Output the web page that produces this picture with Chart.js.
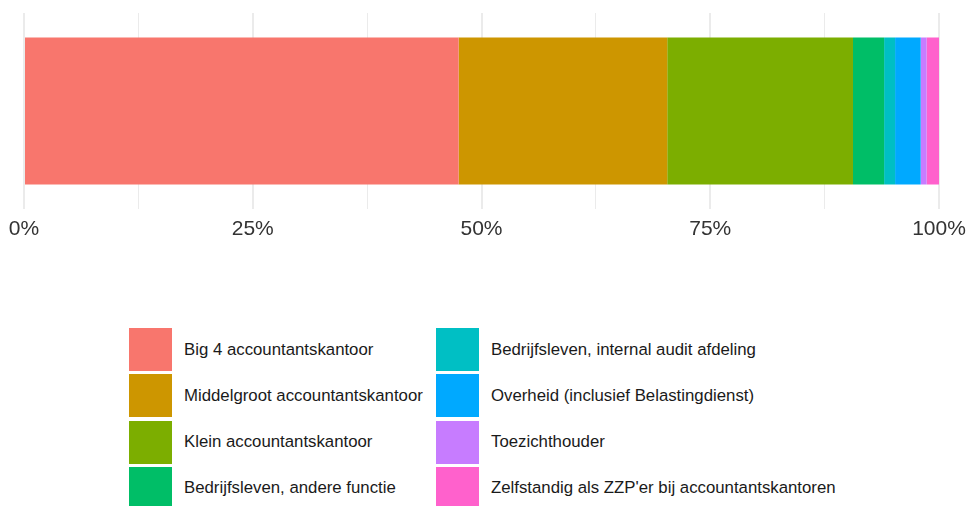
<!DOCTYPE html>
<html>
<head>
<meta charset="utf-8">
<script src="https://cdn.jsdelivr.net/npm/chart.js@4"></script>
<style>
  body { margin: 0; background: #fff; font-family: "Liberation Sans", Arial, sans-serif; }
  #wrap { position: relative; width: 967px; height: 506px; }
  #chartBox { position: absolute; left: 0; top: 0; width: 967px; height: 250px; }
  .item { position: absolute; height: 43px; display: flex; align-items: center; }
  .sw { width: 43px; height: 43px; margin-right: 12px; }
  .item span { font-size: 16.8px; color: #1a1a1a; white-space: nowrap; }
</style>
</head>
<body>
<div id="wrap">
  <div id="chartBox"><canvas id="grafico"></canvas></div>
  <div id="legend"></div>
</div>
<script>
const categorieen = [
  "Big 4 accountantskantoor",
  "Middelgroot accountantskantoor",
  "Klein accountantskantoor",
  "Bedrijfsleven, andere functie",
  "Bedrijfsleven, internal audit afdeling",
  "Overheid (inclusief Belastingdienst)",
  "Toezichthouder",
  "Zelfstandig als ZZP'er bij accountantskantoren"
];
const aandelen = [47.5, 22.8, 20.3, 3.4, 1.2, 2.8, 0.65, 1.35];
const kleuren = ["#F8766D", "#CD9600", "#7CAE00", "#00BE67", "#00BFC4", "#00A9FF", "#C77CFF", "#FF61CC"];
const tickLabels = [0, 25, 50, 75, 100];

// legenda: twee kolommen, vier rijen
const legend = document.getElementById('legend');
categorieen.forEach((naam, i) => {
  const col = Math.floor(i / 4), row = i % 4;
  const el = document.createElement('div');
  el.className = 'item';
  el.style.left = (col === 0 ? 129 : 436) + 'px';
  el.style.top = (328 + row * 46.3) + 'px';
  el.innerHTML = `<div class="sw" style="background:${kleuren[i]}"></div><span>${naam}</span>`;
  legend.appendChild(el);
});

const ctx = document.getElementById('grafico').getContext('2d');
new Chart(ctx, {
  type: 'bar',
  data: {
    labels: [''],
    datasets: categorieen.map((naam, i) => ({
      label: naam,
      data: [aandelen[i]],
      backgroundColor: kleuren[i],
      borderWidth: 0,
      categoryPercentage: 0.75,
      barPercentage: 1
    }))
  },
  options: {
    indexAxis: 'y',
    responsive: true,
    maintainAspectRatio: false,
    animation: false,
    layout: { padding: { left: 24, right: 28, top: 13, bottom: 12 } },
    plugins: { legend: { display: false }, tooltip: { enabled: false } },
    scales: {
      x: {
        stacked: true,
        min: 0,
        max: 100,
        border: { display: false },
        afterFit: s => { s.height = 29; s.paddingLeft = 0; s.paddingRight = 0; },
        grid: {
          drawTicks: false,
          color: '#EBEBEB',
          lineWidth: c => (tickLabels.includes(c.tick.value) ? 2 : 1)
        },
        ticks: {
          stepSize: 12.5,
          autoSkip: false,
          maxRotation: 0,
          padding: 8,
          color: '#333',
          font: { family: '"Liberation Sans", Arial, sans-serif', size: 21 },
          callback: v => (tickLabels.includes(v) ? v + '%' : '')
        }
      },
      y: {
        stacked: true,
        display: false
      }
    }
  }
});
</script>
</body>
</html>
